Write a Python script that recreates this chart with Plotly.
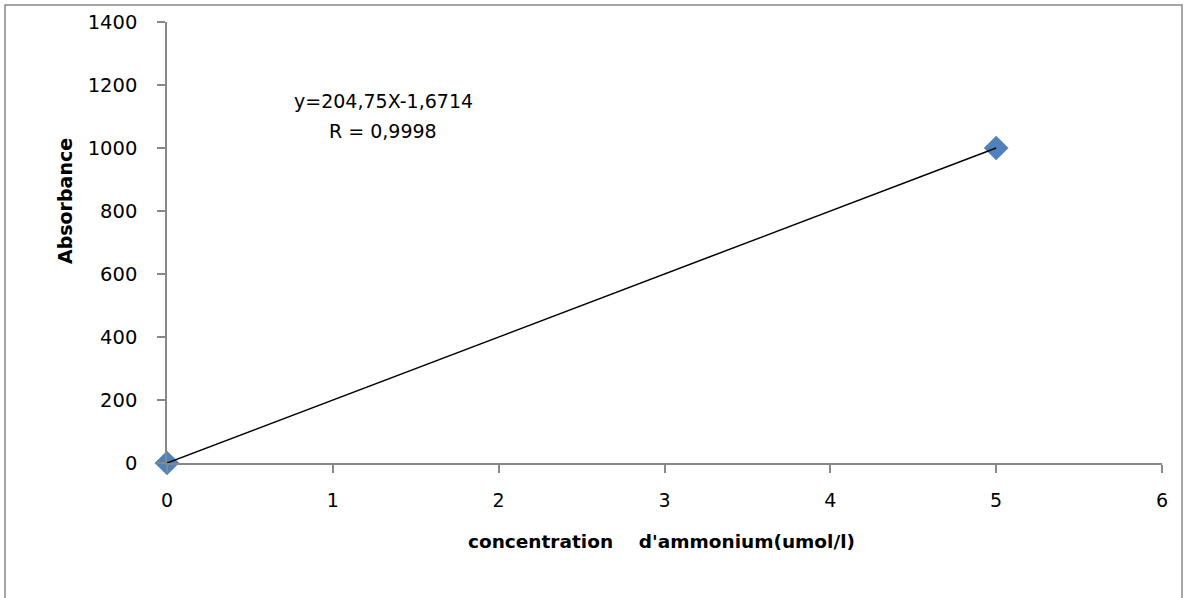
import plotly.graph_objects as go

x_conc = [0, 5]
y_abs = [0, 1000]
x_ticks = [0, 1, 2, 3, 4, 5, 6]
y_ticks = [0, 200, 400, 600, 800, 1000, 1200, 1400]
equation_line1 = "y=204,75X-1,6714"
equation_line2 = "R = 0,9998"
x_title = "concentration    d'ammonium(umol/l)"
y_title = "Absorbance"

FONT = "'DejaVu Sans', sans-serif"
AXIS_COLOR = "#888888"

fig = go.Figure()
fig.add_trace(go.Scatter(
    x=x_conc, y=y_abs, mode="markers",
    marker=dict(symbol="diamond", size=19, color="#4F81BD",
                line=dict(width=0)),
    showlegend=False, cliponaxis=False,
))
fig.add_trace(go.Scatter(
    x=x_conc, y=y_abs, mode="lines",
    line=dict(color="black", width=1.5),
    showlegend=False, cliponaxis=False,
))

fig.update_layout(
    width=1184, height=598,
    margin=dict(l=167, r=22, t=22, b=135),
    paper_bgcolor="white", plot_bgcolor="white",
    font=dict(family=FONT, size=19, color="black"),
    xaxis=dict(range=[0, 6], tickvals=x_ticks, showgrid=False, zeroline=False,
               showline=True, linecolor=AXIS_COLOR, linewidth=1.5,
               ticks="outside", ticklen=8, tickcolor=AXIS_COLOR, tickwidth=1.5,
               tickfont=dict(family=FONT, size=19), ticklabelstandoff=11),
    yaxis=dict(range=[0, 1400], tickvals=y_ticks, showgrid=False, zeroline=False,
               showline=True, linecolor=AXIS_COLOR, linewidth=1.5,
               ticks="outside", ticklen=8, tickcolor=AXIS_COLOR, tickwidth=1.5,
               tickfont=dict(family=FONT, size=19.5), ticklabelstandoff=16),
)

fig.add_annotation(
    x=1.303, y=1149, xref="x", yref="y", text=equation_line1, showarrow=False,
    xanchor="center", yanchor="middle",
    font=dict(family=FONT, size=19, color="black"),
)
fig.add_annotation(
    x=1.303, y=1054, xref="x", yref="y", text=equation_line2, showarrow=False,
    xanchor="center", yanchor="middle",
    font=dict(family=FONT, size=19, color="black"),
)
fig.add_annotation(
    x=-0.1025, y=0.594, xref="paper", yref="paper", text="<b>" + y_title + "</b>",
    showarrow=False, textangle=-90, xanchor="center", yanchor="middle",
    font=dict(family=FONT, size=19, color="black"),
)
fig.add_annotation(
    x=0.4965, y=-0.179, xref="paper", yref="paper", text="<b>" + x_title + "</b>",
    showarrow=False, xanchor="center", yanchor="middle",
    font=dict(family=FONT, size=18.5, color="black"),
)
fig.add_shape(
    type="rect", xref="paper", yref="paper",
    x0=-0.1628, x1=1.0201, y0=-0.4, y1=1.0385,
    line=dict(color=AXIS_COLOR, width=1.5), fillcolor="rgba(0,0,0,0)", layer="below",
)

fig.write_html("out.html", config={"displayModeBar": False},
               post_script="document.body.style.margin='0px';")
